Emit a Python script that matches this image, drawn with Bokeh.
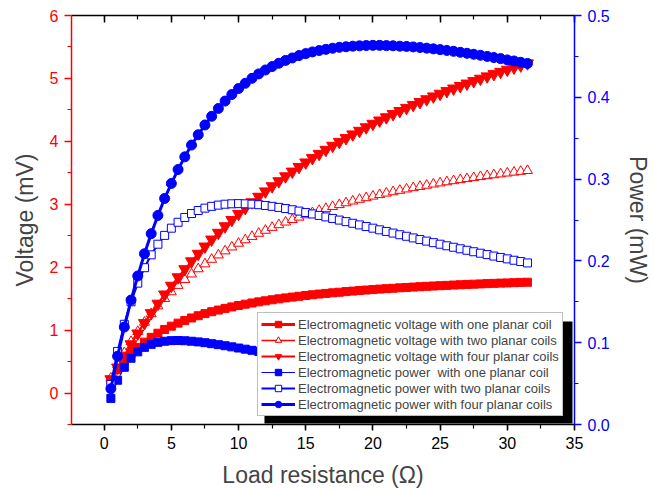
from bokeh.plotting import figure
from bokeh.models import (Range1d, LinearAxis, SingleIntervalTicker, Legend, LegendItem,
                          BoxAnnotation, PrintfTickFormatter)
from bokeh.embed import file_html
from bokeh.resources import INLINE

# ---------------- data ----------------
resistance = [0.5, 1.0, 1.5, 2.0, 2.5, 3.0, 3.5, 4.0, 4.5, 5.0,
              5.5, 6.0, 6.5, 7.0, 7.5, 8.0, 8.5, 9.0, 9.5, 10.0,
              10.5, 11.0, 11.5, 12.0, 12.5, 13.0, 13.5, 14.0, 14.5, 15.0,
              15.5, 16.0, 16.5, 17.0, 17.5, 18.0, 18.5, 19.0, 19.5, 20.0,
              20.5, 21.0, 21.5, 22.0, 22.5, 23.0, 23.5, 24.0, 24.5, 25.0,
              25.5, 26.0, 26.5, 27.0, 27.5, 28.0, 28.5, 29.0, 29.5, 30.0,
              30.5, 31.0, 31.5]

voltage_one = [0.203, 0.369, 0.507, 0.623, 0.723, 0.809, 0.885, 0.951, 1.011, 1.063,
               1.111, 1.154, 1.193, 1.229, 1.262, 1.292, 1.319, 1.345, 1.369, 1.391,
               1.412, 1.431, 1.449, 1.466, 1.482, 1.497, 1.512, 1.525, 1.538, 1.550,
               1.562, 1.573, 1.583, 1.593, 1.602, 1.612, 1.620, 1.629, 1.637, 1.644,
               1.652, 1.659, 1.665, 1.672, 1.678, 1.684, 1.690, 1.696, 1.701, 1.706,
               1.711, 1.716, 1.721, 1.726, 1.730, 1.734, 1.739, 1.743, 1.747, 1.750,
               1.754, 1.758, 1.761]

voltage_two = [0.235, 0.448, 0.640, 0.816, 0.976, 1.123, 1.259, 1.384, 1.500, 1.608,
               1.709, 1.803, 1.891, 1.973, 2.051, 2.124, 2.193, 2.258, 2.320, 2.379,
               2.434, 2.487, 2.537, 2.585, 2.631, 2.674, 2.716, 2.756, 2.794, 2.831,
               2.866, 2.900, 2.932, 2.963, 2.993, 3.022, 3.050, 3.077, 3.103, 3.128,
               3.152, 3.176, 3.198, 3.220, 3.242, 3.262, 3.282, 3.301, 3.320, 3.338,
               3.356, 3.373, 3.390, 3.406, 3.422, 3.438, 3.453, 3.467, 3.481, 3.495,
               3.509, 3.522, 3.535]

voltage_four = [0.220, 0.406, 0.594, 0.775, 0.947, 1.112, 1.270, 1.421, 1.567, 1.706,
                1.840, 1.969, 2.094, 2.213, 2.329, 2.440, 2.547, 2.651, 2.751, 2.848,
                2.941, 3.032, 3.120, 3.205, 3.287, 3.367, 3.445, 3.520, 3.594, 3.665,
                3.734, 3.801, 3.866, 3.930, 3.992, 4.052, 4.111, 4.168, 4.224, 4.279,
                4.332, 4.383, 4.434, 4.483, 4.532, 4.579, 4.625, 4.670, 4.714, 4.757,
                4.799, 4.840, 4.880, 4.919, 4.958, 4.996, 5.033, 5.069, 5.105, 5.139,
                5.174, 5.207, 5.240]

power_one = [0.0319, 0.0541, 0.0699, 0.0810, 0.0888, 0.0943, 0.0980, 0.1004, 0.1018, 0.1025,
             0.1027, 0.1024, 0.1018, 0.1010, 0.1000, 0.0988, 0.0976, 0.0963, 0.0949, 0.0935,
             0.0921, 0.0907, 0.0893, 0.0879, 0.0865, 0.0852, 0.0838, 0.0825, 0.0812, 0.0799,
             0.0787, 0.0775, 0.0763, 0.0751, 0.0740, 0.0729, 0.0718, 0.0708, 0.0698, 0.0688,
             0.0678, 0.0668, 0.0659, 0.0650, 0.0641, 0.0632, 0.0624, 0.0616, 0.0608, 0.0600,
             0.0592, 0.0585, 0.0578, 0.0570, 0.0564, 0.0557, 0.0550, 0.0544, 0.0537, 0.0531,
             0.0525, 0.0519, 0.0513]

power_two = [0.0490, 0.0893, 0.1225, 0.1500, 0.1728, 0.1917, 0.2074, 0.2204, 0.2312, 0.2400,
             0.2472, 0.2531, 0.2579, 0.2616, 0.2645, 0.2667, 0.2682, 0.2693, 0.2698, 0.2700,
             0.2698, 0.2694, 0.2687, 0.2678, 0.2667, 0.2654, 0.2640, 0.2625, 0.2609, 0.2592,
             0.2574, 0.2556, 0.2538, 0.2519, 0.2499, 0.2480, 0.2460, 0.2440, 0.2420, 0.2400,
             0.2380, 0.2360, 0.2340, 0.2320, 0.2301, 0.2281, 0.2261, 0.2242, 0.2223, 0.2204,
             0.2185, 0.2167, 0.2148, 0.2130, 0.2112, 0.2094, 0.2077, 0.2059, 0.2042, 0.2025,
             0.2008, 0.1992, 0.1975]

power_four = [0.0438, 0.0835, 0.1191, 0.1521, 0.1816, 0.2087, 0.2333, 0.2556, 0.2763, 0.2947,
              0.3117, 0.3272, 0.3416, 0.3542, 0.3662, 0.3768, 0.3864, 0.3954, 0.4034, 0.4107,
              0.4171, 0.4232, 0.4286, 0.4334, 0.4376, 0.4416, 0.4451, 0.4481, 0.4510, 0.4534,
              0.4555, 0.4572, 0.4586, 0.4600, 0.4611, 0.4618, 0.4625, 0.4629, 0.4633, 0.4635,
              0.4635, 0.4632, 0.4630, 0.4625, 0.4622, 0.4616, 0.4609, 0.4601, 0.4592, 0.4583,
              0.4573, 0.4562, 0.4550, 0.4538, 0.4526, 0.4514, 0.4500, 0.4486, 0.4473, 0.4457,
              0.4444, 0.4428, 0.4414]

labels = ["Electromagnetic voltage with one planar coil",
          "Electromagnetic voltage with two planar coils",
          "Electromagnetic voltage with four planar coils",
          "Electromagnetic power  with one planar coil",
          "Electromagnetic power with two planar coils",
          "Electromagnetic power with four planar coils"]

x_title = "Load resistance (\u03a9)"
y_left_title = "Voltage (mV)"
y_right_title = "Power (mW)"

# ---------------- styling ----------------
FONT = "Liberation Sans"
RED = "#FF0000"
BLUE = "#0000FF"

p = figure(width=654, height=490, output_backend="svg", toolbar_location=None,
           x_range=Range1d(-2.43, 35), y_range=Range1d(-0.5, 6),
           min_border_left=71, min_border_right=80, min_border_top=15, min_border_bottom=66)
p.extra_y_ranges = {"power": Range1d(0, 0.5)}
p.xgrid.grid_line_color = None
p.ygrid.grid_line_color = None
p.outline_line_color = None
p.background_fill_color = "white"
p.border_fill_color = "white"

# bottom axis
xa = p.xaxis[0]
xa.ticker = SingleIntervalTicker(interval=5, num_minor_ticks=2)
xa.axis_label = x_title
xa.axis_label_text_font = FONT
xa.axis_label_text_font_size = "23px"
xa.axis_label_text_font_style = "normal"
xa.axis_label_standoff = 10
xa.major_label_text_font = FONT
xa.major_label_text_font_size = "16px"
xa.major_label_text_color = "black"
xa.major_label_standoff = 6
xa.axis_line_width = 1.5
xa.major_tick_out = 6
xa.major_tick_in = 0
xa.minor_tick_out = 4
xa.minor_tick_in = 0
xa.major_tick_line_width = 1.5
xa.minor_tick_line_width = 1.2

# left axis (voltage)
ya = p.yaxis[0]
ya.ticker = SingleIntervalTicker(interval=1, num_minor_ticks=2)
ya.axis_label = y_left_title
ya.axis_label_text_font = FONT
ya.axis_label_text_font_size = "23px"
ya.axis_label_text_font_style = "normal"
ya.axis_label_standoff = 9
ya.major_label_text_font = FONT
ya.major_label_text_font_size = "16px"
ya.major_label_text_color = RED
ya.major_label_standoff = 6
ya.axis_line_color = RED
ya.axis_line_width = 1.5
ya.major_tick_line_color = RED
ya.minor_tick_line_color = RED
ya.major_tick_line_width = 1.5
ya.minor_tick_line_width = 1.2
ya.major_tick_out = 7
ya.major_tick_in = 0
ya.minor_tick_out = 4
ya.minor_tick_in = 0

# right axis (power)
ra = LinearAxis(y_range_name="power",
                ticker=SingleIntervalTicker(interval=0.1, num_minor_ticks=2),
                formatter=PrintfTickFormatter(format="%.1f"),
                axis_label=y_right_title,
                axis_label_text_font=FONT, axis_label_text_font_size="23px",
                axis_label_text_font_style="normal", axis_label_standoff=12,
                major_label_text_font=FONT, major_label_text_font_size="16px",
                major_label_text_color=BLUE, major_label_standoff=6,
                axis_line_color=BLUE, axis_line_width=1.5,
                major_tick_line_color=BLUE, minor_tick_line_color=BLUE,
                major_tick_line_width=1.5, minor_tick_line_width=1.2,
                major_tick_out=7, major_tick_in=0, minor_tick_out=4, minor_tick_in=0)
p.add_layout(ra, "right")

# top axis (ticks only, inward, no labels)
ta = LinearAxis(ticker=SingleIntervalTicker(interval=5, num_minor_ticks=2),
                major_label_text_font_size="1px", major_label_text_color=None,
                major_label_standoff=0,
                axis_line_width=1.5, major_tick_line_width=1.5, minor_tick_line_width=1.2,
                major_tick_in=7, major_tick_out=0, minor_tick_in=4, minor_tick_out=0)
p.add_layout(ta, "above")

# ---------------- glyphs: voltage (left axis) ----------------
l1 = p.line(resistance, voltage_one, line_color=RED, line_width=3)
s1 = p.scatter(resistance, voltage_one, marker="square", size=8,
               fill_color=RED, line_color=RED)
l2 = p.line(resistance, voltage_two, line_color=RED, line_width=1.3)
s2 = p.scatter(resistance, voltage_two, marker="triangle", size=10,
               fill_color="white", line_color=RED, line_width=1)
l3 = p.line(resistance, voltage_four, line_color=RED, line_width=2)
s3 = p.scatter(resistance, voltage_four, marker="inverted_triangle", size=12,
               fill_color=RED, line_color=RED)

# ---------------- glyphs: power (right axis) ----------------
l4 = p.line(resistance, power_one, line_color=BLUE, line_width=1, y_range_name="power")
s4 = p.scatter(resistance, power_one, marker="square", size=8,
               fill_color=BLUE, line_color=BLUE, y_range_name="power")
l5 = p.line(resistance, power_two, line_color=BLUE, line_width=2.2, y_range_name="power")
s5 = p.scatter(resistance, power_two, marker="square", size=8,
               fill_color="white", line_color=BLUE, line_width=1, y_range_name="power")
l6 = p.line(resistance, power_four, line_color=BLUE, line_width=3, y_range_name="power")
s6 = p.scatter(resistance, power_four, marker="circle", size=10,
               fill_color=BLUE, line_color=BLUE, y_range_name="power")

# legend shadow (black offset box behind the legend)
shadow = BoxAnnotation(left=11.93, right=34.85, top=1.137, bottom=-0.484,
                       fill_color="black", fill_alpha=1, line_color=None, level="underlay")
p.add_layout(shadow)

pairs = [(l1, s1), (l2, s2), (l3, s3), (l4, s4), (l5, s5), (l6, s6)]
legend = Legend(items=[LegendItem(label=lab, renderers=list(rs)) for lab, rs in zip(labels, pairs)],
                location=(186, 8),
                label_text_font=FONT, label_text_font_size="13px",
                label_height=16, glyph_height=16, glyph_width=34,
                label_standoff=3, spacing=0, padding=3, margin=0,
                border_line_color="#7f7f7f", border_line_width=1,
                background_fill_color="white", background_fill_alpha=1)
p.add_layout(legend)

open("out.html", "w").write(file_html(p, INLINE))
